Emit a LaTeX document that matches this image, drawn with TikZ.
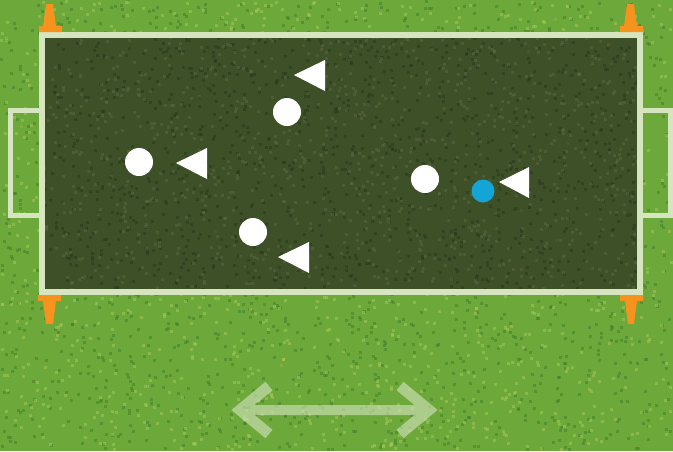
\documentclass[tikz,border=0pt]{standalone}
\begin{document}
\begin{tikzpicture}[x=1pt,y=-1pt,
  player/.style={circle, fill=white, minimum size=28pt, inner sep=0pt},
  keyplayer/.style={circle, fill=bluep, minimum size=23pt, inner sep=0pt},
  marker/.style={fill=white},
  cone/.style={fill=conec},
  bound/.style={draw=lineclr, line width=6pt},
  goalbox/.style={draw=lineclr, line width=5pt},
  arrowpart/.style={draw=lineclr, line width=11pt, line join=miter}
]
\definecolor{grass}{RGB}{108,168,58}
\definecolor{grassd}{RGB}{60,120,40}
\definecolor{grassl}{RGB}{170,200,90}
\definecolor{pitch}{RGB}{62,80,40}
\definecolor{pitchd}{RGB}{40,56,30}
\definecolor{pitchl}{RGB}{92,104,66}
\definecolor{lineclr}{RGB}{214,228,192}
\definecolor{conec}{RGB}{246,146,30}
\definecolor{bluep}{RGB}{20,165,214}
\useasboundingbox (0,0) rectangle (673,451);
\fill[grass] (0,0) rectangle (673,451);
\pgfmathsetseed{7}
\foreach \i in {1,...,1800}{
  \pgfmathsetmacro\xx{rnd*670}\pgfmathsetmacro\yy{rnd*448}
  \fill[grassd, opacity=0.45] (\xx,\yy) rectangle ++(3,3);
}
\foreach \i in {1,...,1500}{
  \pgfmathsetmacro\xx{rnd*670}\pgfmathsetmacro\yy{rnd*448}
  \fill[grassl, opacity=0.5] (\xx,\yy) rectangle ++(3,3);
}
% pitch
\fill[pitch] (42,35) rectangle (639.5,292);
\begin{scope}
\clip (42,35) rectangle (639.5,292);
\foreach \i in {1,...,1200}{
  \pgfmathsetmacro\xx{42+rnd*597}\pgfmathsetmacro\yy{35+rnd*257}
  \fill[pitchd, opacity=0.5] (\xx,\yy) rectangle ++(3,3);
}
\foreach \i in {1,...,1000}{
  \pgfmathsetmacro\xx{42+rnd*597}\pgfmathsetmacro\yy{35+rnd*257}
  \fill[pitchl, opacity=0.5] (\xx,\yy) rectangle ++(3,3);
}
\end{scope}
% goal boxes
\draw[goalbox] (41,110.5) -- (10.5,110.5) -- (10.5,215.5) -- (41,215.5);
\draw[goalbox] (640,110.5) -- (670.5,110.5) -- (670.5,215.5) -- (640,215.5);
% boundary
\draw[bound] (42,35) rectangle (639.5,292);
% cones
\fill[cone] (39,32) -- (62,32) -- (62,26) -- (56,26) -- (53,4) -- (46,4) -- (43,26) -- (39,26) -- cycle;
\fill[cone] (620,32) -- (643,32) -- (643,26) -- (637,26) -- (634,4) -- (627,4) -- (624,26) -- (620,26) -- cycle;
\fill[cone] (38,295) -- (61,295) -- (61,301) -- (56,301) -- (53,324) -- (46,324) -- (43,301) -- (38,301) -- cycle;
\fill[cone] (620,295) -- (643,295) -- (643,301) -- (637,301) -- (634,324) -- (628,324) -- (625,301) -- (620,301) -- cycle;
% players
\node[player] (p1) at (139,162) {};
\node[player] (p2) at (287,112) {};
\node[player] (p3) at (253,232) {};
\node[player] (p4) at (425,179) {};
\node[keyplayer] (b1) at (483,191) {};
% defenders (triangles pointing left)
\fill[marker] (176,163) -- (207,148) -- (207,179) -- cycle;
\fill[marker] (294,75) -- (325,60) -- (325,91) -- cycle;
\fill[marker] (278,257) -- (309,242) -- (309,273) -- cycle;
\fill[marker] (499,182) -- (529,167) -- (529,198) -- cycle;
% double arrow
\coordinate (al) at (240,410);
\coordinate (ar) at (429,410);
\coordinate (alu) at (269,386);
\coordinate (ald) at (269,434);
\coordinate (aru) at (400,386);
\coordinate (ard) at (400,434);
\begin{scope}[transparency group, opacity=0.6]
\draw[draw=lineclr, line width=10pt] (al) -- (ar);
\draw[arrowpart] (alu) -- (al) -- (ald);
\draw[arrowpart] (aru) -- (ar) -- (ard);
\end{scope}
\end{tikzpicture}
\end{document}
